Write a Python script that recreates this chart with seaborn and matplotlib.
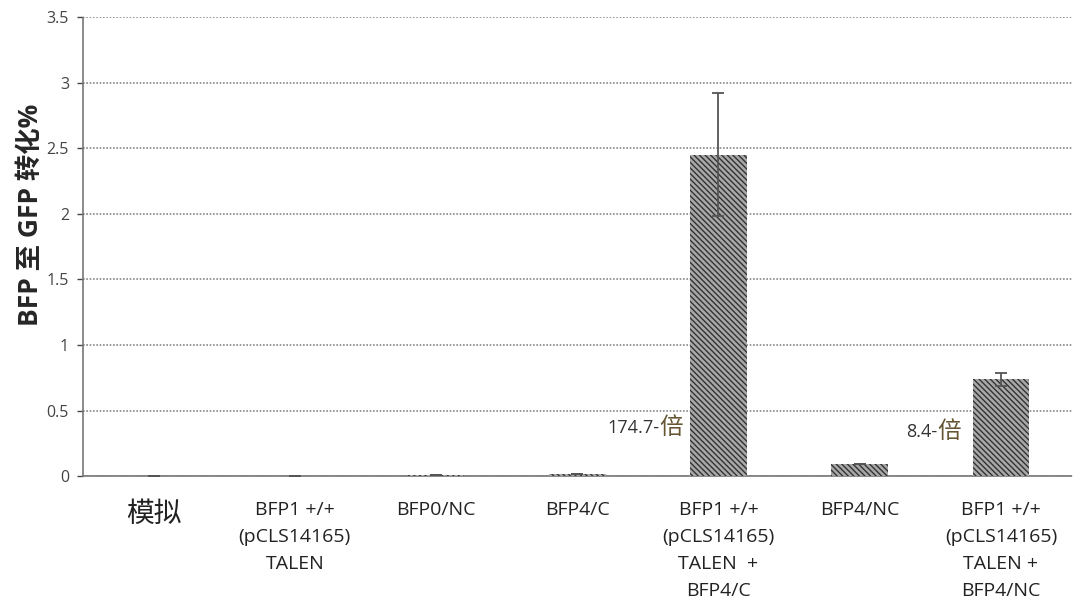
import seaborn as sns
import pandas as pd
import matplotlib.pyplot as plt

# data
groups = ['模拟', 'BFP1 +/+\n(pCLS14165)\nTALEN', 'BFP0/NC', 'BFP4/C',
          'BFP1 +/+\n(pCLS14165)\nTALEN  +\nBFP4/C', 'BFP4/NC',
          'BFP1 +/+\n(pCLS14165)\nTALEN +\nBFP4/NC']
conversion = [0.002, 0.004, 0.006, 0.015, 2.45, 0.09, 0.74]
err = [0, 0, 0, 0, 0.47, 0, 0.05]
fold_nums = ['174.7-', '8.4-']
fold_pos = [3.58, 5.55]
fold_y = [0.366, 0.335]

sns.set_style('white')
plt.rcParams['font.family'] = ['Open Sans', 'Noto Sans CJK SC', 'DejaVu Sans']
plt.rcParams['hatch.linewidth'] = 1.0

df = pd.DataFrame({'group': groups, 'val': conversion})

fig = plt.figure(figsize=(10.78, 6.12), dpi=100)
ax = fig.add_axes([0.077, 0.222, 0.917, 0.75])
sns.barplot(data=df, x='group', y='val', color='#a8a8a8', width=0.4,
            edgecolor='#333333', linewidth=0, ax=ax, zorder=3)
for p in ax.patches:
    p.set_hatch('\\\\\\\\\\\\')
ax.errorbar(range(len(groups)), conversion, yerr=err, fmt='none',
            ecolor='#555555', elinewidth=1.3, capsize=4, capthick=1.3, zorder=4)

ax.set_ylim(0, 3.5)
ax.set_xlim(-0.5, 6.5)
ax.set_yticks([0, 0.5, 1, 1.5, 2, 2.5, 3, 3.5])
ax.set_yticklabels(['0', '0.5', '1', '1.5', '2', '2.5', '3', '3.5'])
ax.yaxis.grid(True, linestyle=(0, (1, 1)), color='#888888', linewidth=1.2, zorder=0)
ax.set_axisbelow(True)
for s in ['top', 'right']:
    ax.spines[s].set_visible(False)
for s in ['left', 'bottom']:
    ax.spines[s].set_linestyle((0, (1, 1)))
    ax.spines[s].set_color('#777777')
    ax.spines[s].set_linewidth(1.2)
ax.tick_params(axis='y', labelsize=11.5, colors='#444444', length=4, width=1,
               direction='out', left=True, pad=6)
ax.tick_params(axis='x', labelsize=14, colors='#222222', length=0, pad=18)
for lab in ax.get_xticklabels():
    lab.set_linespacing(1.65)
ax.get_xticklabels()[0].set_fontsize(20)
ax.set_xlabel('')
ax.set_ylabel('BFP 至 GFP 转化%', fontsize=19, fontweight='bold')
ax.yaxis.set_label_coords(-0.040, 0.57)

for t, x, y in zip(fold_nums, fold_pos, fold_y):
    ax.text(x, y, t, fontsize=13, color='#333333', ha='right', va='center')
    ax.text(x, y, '倍', fontsize=17, color='#665533', ha='left', va='center')

plt.savefig('out.png', dpi=100)
